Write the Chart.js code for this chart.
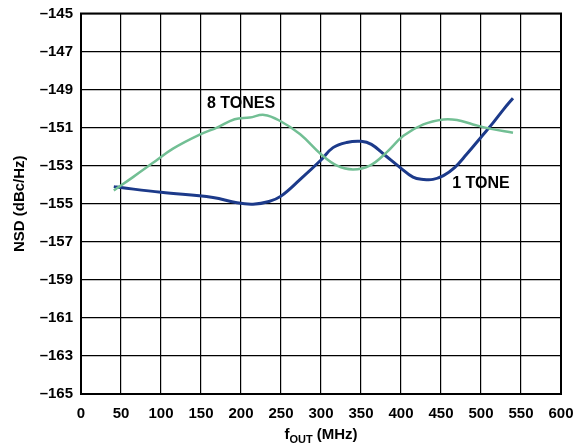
<!DOCTYPE html>
<html>
<head>
<meta charset="utf-8">
<script src="https://cdn.jsdelivr.net/npm/chart.js@4.4.1/dist/chart.umd.min.js"></script>
<style>
  html, body { margin: 0; padding: 0; background: #fff; }
  #wrap { position: relative; width: 582px; height: 447px; }
</style>
</head>
<body>
<div id="wrap"><canvas id="nsdChart" width="582" height="447"></canvas></div>
<script>
const xTicks = [0, 50, 100, 150, 200, 250, 300, 350, 400, 450, 500, 550, 600];
const yTicks = [-165, -163, -161, -159, -157, -155, -153, -151, -149, -147, -145];

const oneToneFreq = [41, 50, 100, 165, 195, 215, 235, 250, 274, 300, 315, 332, 350, 363, 380, 399, 415, 428, 440, 453, 467, 482, 500, 515, 528, 540];
const oneToneNsd = [-154.1, -154.15, -154.4, -154.67, -154.95, -155.02, -154.88, -154.6, -153.72, -152.7, -152.05, -151.78, -151.72, -151.88, -152.45, -153.1, -153.6, -153.72, -153.72, -153.52, -153.1, -152.4, -151.5, -150.75, -150.05, -149.45];

const eightToneFreq = [41, 65, 90, 115, 149, 170, 192, 211, 229, 249, 274, 300, 320, 340, 361, 382, 403, 428, 453, 470, 490, 511, 540];
const eightToneNsd = [-154.3, -153.6, -152.85, -152.1, -151.35, -151.0, -150.56, -150.47, -150.33, -150.65, -151.35, -152.4, -153.0, -153.2, -153.0, -152.3, -151.43, -150.83, -150.57, -150.6, -150.83, -151.05, -151.27];

const seriesLabels = [
  { text: '8 TONES', x: 200, y: -149.76 },
  { text: '1 TONE', x: 500, y: -153.96 },
];

const FONT = '"Liberation Sans", Arial, sans-serif';

const toPoints = (xs, ys) => xs.map((x, i) => ({ x, y: ys[i] }));

// frame, in-plot labels and the x title with its subscript
const decorations = {
  id: 'decorations',
  afterDatasetsDraw(chart) {
    const { ctx, chartArea, scales } = chart;
    ctx.save();
    ctx.fillStyle = '#000';
    ctx.textAlign = 'center';
    ctx.textBaseline = 'middle';
    ctx.font = `bold 16px ${FONT}`;
    seriesLabels.forEach((l) => {
      ctx.fillText(l.text, scales.x.getPixelForValue(l.x), scales.y.getPixelForValue(l.y));
    });

    ctx.strokeStyle = '#000';
    ctx.lineWidth = 2;
    ctx.strokeRect(chartArea.left, chartArea.top, chartArea.right - chartArea.left, chartArea.bottom - chartArea.top);

    const cx = (chartArea.left + chartArea.right) / 2;
    const y = 439;
    ctx.textAlign = 'left';
    ctx.textBaseline = 'alphabetic';
    ctx.font = `bold 15px ${FONT}`;
    const fW = ctx.measureText('f').width;
    const rest = ' (MHz)';
    const restW = ctx.measureText(rest).width;
    ctx.font = `bold 11px ${FONT}`;
    const subW = ctx.measureText('OUT').width;
    let x = cx - (fW + subW + restW) / 2;
    ctx.font = `bold 15px ${FONT}`;
    ctx.fillText('f', x, y);
    x += fW;
    ctx.font = `bold 11px ${FONT}`;
    ctx.fillText('OUT', x, y + 4);
    x += subW;
    ctx.font = `bold 15px ${FONT}`;
    ctx.fillText(rest, x, y);
    ctx.restore();
  },
};

new Chart(document.getElementById('nsdChart').getContext('2d'), {
  type: 'line',
  data: {
    datasets: [
      {
        label: '8 TONES',
        data: toPoints(eightToneFreq, eightToneNsd),
        borderColor: '#72bf94',
        borderWidth: 2.5,
        pointRadius: 0,
        tension: 0.4,
        fill: false,
      },
      {
        label: '1 TONE',
        data: toPoints(oneToneFreq, oneToneNsd),
        borderColor: '#1c3a8a',
        borderWidth: 3,
        pointRadius: 0,
        tension: 0.4,
        fill: false,
      },
    ],
  },
  options: {
    responsive: false,
    animation: false,
    layout: { padding: { left: 0, right: 21, top: 13.5, bottom: 0 } },
    plugins: {
      legend: { display: false },
      tooltip: { enabled: false },
    },
    scales: {
      x: {
        type: 'linear',
        min: 0,
        max: 600,
        afterBuildTicks: (scale) => {
          scale.ticks = xTicks.map((value) => ({ value }));
        },
        afterFit: (scale) => {
          scale.height = 53;
          scale.paddingLeft = 0;
          scale.paddingRight = 0;
        },
        grid: { color: '#000', lineWidth: 1.2, drawTicks: false },
        border: { display: false },
        ticks: {
          color: '#000',
          padding: 11,
          maxRotation: 0,
          font: { family: FONT, size: 15, weight: 'bold' },
        },
      },
      y: {
        type: 'linear',
        min: -165,
        max: -145,
        afterBuildTicks: (scale) => {
          scale.ticks = yTicks.map((value) => ({ value }));
        },
        afterFit: (scale) => {
          scale.width = 81;
          scale.paddingTop = 0;
          scale.paddingBottom = 0;
        },
        grid: { color: '#000', lineWidth: 1.2, drawTicks: false },
        border: { display: false },
        title: {
          display: true,
          text: 'NSD (dBc/Hz)',
          color: '#000',
          padding: { top: 11, bottom: 4 },
          font: { family: FONT, size: 15, weight: 'bold' },
        },
        ticks: {
          color: '#000',
          padding: 8,
          callback: (v) => `\u2013${Math.abs(v)}`,
          font: { family: FONT, size: 15, weight: 'bold' },
        },
      },
    },
  },
  plugins: [decorations],
});
</script>
</body>
</html>
